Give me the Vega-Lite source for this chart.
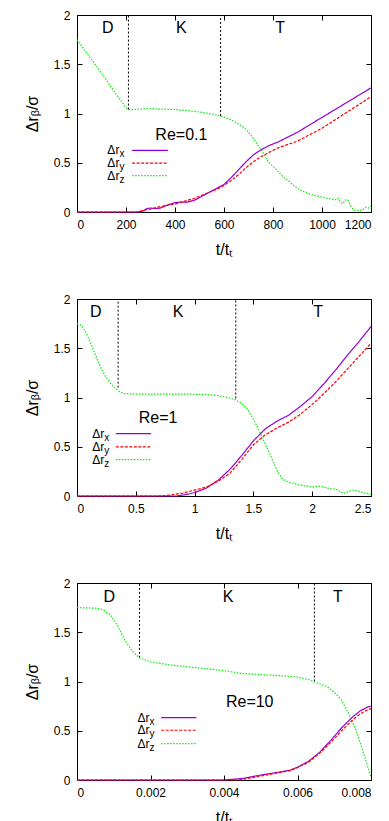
{
  "$schema": "https://vega.github.io/schema/vega-lite/v6.json",
  "padding": {"left": 23, "top": 8, "right": 0, "bottom": 0},
  "spacing": 34,
  "config": {
    "view": {"stroke": "#000", "strokeWidth": 1},
    "font": "Liberation Sans",
    "axis": {"grid": false, "domain": false, "tickColor": "#000", "tickSize": -5, "labelPadding": 12, "labelColor": "#000", "labelFontSize": 12, "titleFontSize": 16, "titleColor": "#000", "titleFontWeight": "normal", "labelFont": "Liberation Sans", "titleFont": "Liberation Sans"},
    "axisX": {"titlePadding": 11},
    "axisY": {"titlePadding": 13}
  },
  "datasets": {
    "curves": [
      {"p": 1, "s": "z", "t": 0, "v": 1.75}, {"p": 1, "s": "z", "t": 50, "v": 1.58}, {"p": 1, "s": "z", "t": 100, "v": 1.41}, {"p": 1, "s": "z", "t": 150, "v": 1.23}, {"p": 1, "s": "z", "t": 200, "v": 1.06}, {"p": 1, "s": "z", "t": 210, "v": 1.04}, {"p": 1, "s": "z", "t": 230, "v": 1.04}, {"p": 1, "s": "z", "t": 260, "v": 1.045}, {"p": 1, "s": "z", "t": 300, "v": 1.05}, {"p": 1, "s": "z", "t": 330, "v": 1.045}, {"p": 1, "s": "z", "t": 360, "v": 1.045}, {"p": 1, "s": "z", "t": 400, "v": 1.04}, {"p": 1, "s": "z", "t": 450, "v": 1.03}, {"p": 1, "s": "z", "t": 500, "v": 1.015}, {"p": 1, "s": "z", "t": 550, "v": 0.995}, {"p": 1, "s": "z", "t": 585, "v": 0.975}, {"p": 1, "s": "z", "t": 620, "v": 0.945}, {"p": 1, "s": "z", "t": 650, "v": 0.91}, {"p": 1, "s": "z", "t": 685, "v": 0.85}, {"p": 1, "s": "z", "t": 710, "v": 0.78}, {"p": 1, "s": "z", "t": 730, "v": 0.71}, {"p": 1, "s": "z", "t": 755, "v": 0.62}, {"p": 1, "s": "z", "t": 780, "v": 0.51}, {"p": 1, "s": "z", "t": 810, "v": 0.44}, {"p": 1, "s": "z", "t": 840, "v": 0.36}, {"p": 1, "s": "z", "t": 870, "v": 0.3}, {"p": 1, "s": "z", "t": 905, "v": 0.23}, {"p": 1, "s": "z", "t": 940, "v": 0.19}, {"p": 1, "s": "z", "t": 975, "v": 0.165}, {"p": 1, "s": "z", "t": 1010, "v": 0.145}, {"p": 1, "s": "z", "t": 1040, "v": 0.13}, {"p": 1, "s": "z", "t": 1055, "v": 0.125}, {"p": 1, "s": "z", "t": 1065, "v": 0.14}, {"p": 1, "s": "z", "t": 1075, "v": 0.1}, {"p": 1, "s": "z", "t": 1085, "v": 0.085}, {"p": 1, "s": "z", "t": 1095, "v": 0.12}, {"p": 1, "s": "z", "t": 1105, "v": 0.125}, {"p": 1, "s": "z", "t": 1115, "v": 0.07}, {"p": 1, "s": "z", "t": 1130, "v": 0.02}, {"p": 1, "s": "z", "t": 1150, "v": 0.015}, {"p": 1, "s": "z", "t": 1165, "v": 0.02}, {"p": 1, "s": "z", "t": 1180, "v": 0.05}, {"p": 1, "s": "z", "t": 1190, "v": 0.04}, {"p": 1, "s": "z", "t": 1200, "v": 0.06},
      {"p": 1, "s": "x", "t": 0, "v": 0}, {"p": 1, "s": "x", "t": 250, "v": 0}, {"p": 1, "s": "x", "t": 270, "v": 0.01}, {"p": 1, "s": "x", "t": 285, "v": 0.035}, {"p": 1, "s": "x", "t": 300, "v": 0.04}, {"p": 1, "s": "x", "t": 320, "v": 0.035}, {"p": 1, "s": "x", "t": 340, "v": 0.04}, {"p": 1, "s": "x", "t": 360, "v": 0.06}, {"p": 1, "s": "x", "t": 380, "v": 0.08}, {"p": 1, "s": "x", "t": 400, "v": 0.095}, {"p": 1, "s": "x", "t": 420, "v": 0.1}, {"p": 1, "s": "x", "t": 450, "v": 0.1}, {"p": 1, "s": "x", "t": 480, "v": 0.12}, {"p": 1, "s": "x", "t": 510, "v": 0.16}, {"p": 1, "s": "x", "t": 540, "v": 0.2}, {"p": 1, "s": "x", "t": 570, "v": 0.24}, {"p": 1, "s": "x", "t": 600, "v": 0.28}, {"p": 1, "s": "x", "t": 630, "v": 0.35}, {"p": 1, "s": "x", "t": 660, "v": 0.43}, {"p": 1, "s": "x", "t": 690, "v": 0.51}, {"p": 1, "s": "x", "t": 720, "v": 0.58}, {"p": 1, "s": "x", "t": 750, "v": 0.63}, {"p": 1, "s": "x", "t": 780, "v": 0.67}, {"p": 1, "s": "x", "t": 820, "v": 0.71}, {"p": 1, "s": "x", "t": 900, "v": 0.81}, {"p": 1, "s": "x", "t": 1000, "v": 0.96}, {"p": 1, "s": "x", "t": 1100, "v": 1.11}, {"p": 1, "s": "x", "t": 1200, "v": 1.26},
      {"p": 1, "s": "y", "t": 0, "v": 0}, {"p": 1, "s": "y", "t": 240, "v": 0}, {"p": 1, "s": "y", "t": 260, "v": 0.01}, {"p": 1, "s": "y", "t": 280, "v": 0.02}, {"p": 1, "s": "y", "t": 300, "v": 0.03}, {"p": 1, "s": "y", "t": 330, "v": 0.05}, {"p": 1, "s": "y", "t": 360, "v": 0.065}, {"p": 1, "s": "y", "t": 400, "v": 0.08}, {"p": 1, "s": "y", "t": 440, "v": 0.11}, {"p": 1, "s": "y", "t": 480, "v": 0.14}, {"p": 1, "s": "y", "t": 510, "v": 0.17}, {"p": 1, "s": "y", "t": 540, "v": 0.2}, {"p": 1, "s": "y", "t": 570, "v": 0.23}, {"p": 1, "s": "y", "t": 600, "v": 0.27}, {"p": 1, "s": "y", "t": 630, "v": 0.32}, {"p": 1, "s": "y", "t": 660, "v": 0.38}, {"p": 1, "s": "y", "t": 690, "v": 0.45}, {"p": 1, "s": "y", "t": 720, "v": 0.51}, {"p": 1, "s": "y", "t": 750, "v": 0.56}, {"p": 1, "s": "y", "t": 780, "v": 0.6}, {"p": 1, "s": "y", "t": 820, "v": 0.65}, {"p": 1, "s": "y", "t": 900, "v": 0.72}, {"p": 1, "s": "y", "t": 1000, "v": 0.85}, {"p": 1, "s": "y", "t": 1100, "v": 1.01}, {"p": 1, "s": "y", "t": 1200, "v": 1.17},
      {"p": 2, "s": "z", "t": 0, "v": 1.75}, {"p": 2, "s": "z", "t": 0.04, "v": 1.73}, {"p": 2, "s": "z", "t": 0.08, "v": 1.65}, {"p": 2, "s": "z", "t": 0.12, "v": 1.54}, {"p": 2, "s": "z", "t": 0.16, "v": 1.42}, {"p": 2, "s": "z", "t": 0.2, "v": 1.31}, {"p": 2, "s": "z", "t": 0.24, "v": 1.22}, {"p": 2, "s": "z", "t": 0.28, "v": 1.15}, {"p": 2, "s": "z", "t": 0.32, "v": 1.1}, {"p": 2, "s": "z", "t": 0.36, "v": 1.06}, {"p": 2, "s": "z", "t": 0.4, "v": 1.04}, {"p": 2, "s": "z", "t": 0.5, "v": 1.035}, {"p": 2, "s": "z", "t": 0.7, "v": 1.035}, {"p": 2, "s": "z", "t": 0.9, "v": 1.035}, {"p": 2, "s": "z", "t": 1.1, "v": 1.03}, {"p": 2, "s": "z", "t": 1.2, "v": 1.02}, {"p": 2, "s": "z", "t": 1.3, "v": 0.995}, {"p": 2, "s": "z", "t": 1.35, "v": 0.975}, {"p": 2, "s": "z", "t": 1.4, "v": 0.94}, {"p": 2, "s": "z", "t": 1.45, "v": 0.88}, {"p": 2, "s": "z", "t": 1.5, "v": 0.78}, {"p": 2, "s": "z", "t": 1.55, "v": 0.66}, {"p": 2, "s": "z", "t": 1.6, "v": 0.53}, {"p": 2, "s": "z", "t": 1.65, "v": 0.4}, {"p": 2, "s": "z", "t": 1.7, "v": 0.26}, {"p": 2, "s": "z", "t": 1.75, "v": 0.17}, {"p": 2, "s": "z", "t": 1.8, "v": 0.14}, {"p": 2, "s": "z", "t": 1.9, "v": 0.11}, {"p": 2, "s": "z", "t": 2.0, "v": 0.09}, {"p": 2, "s": "z", "t": 2.05, "v": 0.1}, {"p": 2, "s": "z", "t": 2.1, "v": 0.09}, {"p": 2, "s": "z", "t": 2.15, "v": 0.075}, {"p": 2, "s": "z", "t": 2.2, "v": 0.07}, {"p": 2, "s": "z", "t": 2.27, "v": 0.025}, {"p": 2, "s": "z", "t": 2.32, "v": 0.05}, {"p": 2, "s": "z", "t": 2.36, "v": 0.06}, {"p": 2, "s": "z", "t": 2.4, "v": 0.045}, {"p": 2, "s": "z", "t": 2.45, "v": 0.03}, {"p": 2, "s": "z", "t": 2.5, "v": 0.015},
      {"p": 2, "s": "x", "t": 0, "v": 0}, {"p": 2, "s": "x", "t": 0.85, "v": 0}, {"p": 2, "s": "x", "t": 0.9, "v": 0.01}, {"p": 2, "s": "x", "t": 0.95, "v": 0.02}, {"p": 2, "s": "x", "t": 1.0, "v": 0.035}, {"p": 2, "s": "x", "t": 1.1, "v": 0.08}, {"p": 2, "s": "x", "t": 1.2, "v": 0.16}, {"p": 2, "s": "x", "t": 1.3, "v": 0.27}, {"p": 2, "s": "x", "t": 1.4, "v": 0.41}, {"p": 2, "s": "x", "t": 1.5, "v": 0.56}, {"p": 2, "s": "x", "t": 1.6, "v": 0.68}, {"p": 2, "s": "x", "t": 1.7, "v": 0.76}, {"p": 2, "s": "x", "t": 1.8, "v": 0.82}, {"p": 2, "s": "x", "t": 1.9, "v": 0.91}, {"p": 2, "s": "x", "t": 2.0, "v": 1.01}, {"p": 2, "s": "x", "t": 2.1, "v": 1.14}, {"p": 2, "s": "x", "t": 2.2, "v": 1.28}, {"p": 2, "s": "x", "t": 2.3, "v": 1.43}, {"p": 2, "s": "x", "t": 2.4, "v": 1.57}, {"p": 2, "s": "x", "t": 2.5, "v": 1.72},
      {"p": 2, "s": "y", "t": 0, "v": 0}, {"p": 2, "s": "y", "t": 0.7, "v": 0}, {"p": 2, "s": "y", "t": 0.8, "v": 0.01}, {"p": 2, "s": "y", "t": 0.9, "v": 0.03}, {"p": 2, "s": "y", "t": 1.0, "v": 0.06}, {"p": 2, "s": "y", "t": 1.1, "v": 0.09}, {"p": 2, "s": "y", "t": 1.2, "v": 0.15}, {"p": 2, "s": "y", "t": 1.3, "v": 0.23}, {"p": 2, "s": "y", "t": 1.4, "v": 0.37}, {"p": 2, "s": "y", "t": 1.5, "v": 0.52}, {"p": 2, "s": "y", "t": 1.6, "v": 0.62}, {"p": 2, "s": "y", "t": 1.7, "v": 0.69}, {"p": 2, "s": "y", "t": 1.8, "v": 0.75}, {"p": 2, "s": "y", "t": 1.9, "v": 0.83}, {"p": 2, "s": "y", "t": 2.0, "v": 0.93}, {"p": 2, "s": "y", "t": 2.1, "v": 1.04}, {"p": 2, "s": "y", "t": 2.2, "v": 1.16}, {"p": 2, "s": "y", "t": 2.3, "v": 1.29}, {"p": 2, "s": "y", "t": 2.4, "v": 1.42}, {"p": 2, "s": "y", "t": 2.5, "v": 1.55},
      {"p": 3, "s": "z", "t": 0, "v": 1.75}, {"p": 3, "s": "z", "t": 0.0005, "v": 1.745}, {"p": 3, "s": "z", "t": 0.0007, "v": 1.73}, {"p": 3, "s": "z", "t": 0.0009, "v": 1.68}, {"p": 3, "s": "z", "t": 0.0011, "v": 1.57}, {"p": 3, "s": "z", "t": 0.0013, "v": 1.42}, {"p": 3, "s": "z", "t": 0.0015, "v": 1.31}, {"p": 3, "s": "z", "t": 0.0017, "v": 1.24}, {"p": 3, "s": "z", "t": 0.002, "v": 1.2}, {"p": 3, "s": "z", "t": 0.0025, "v": 1.17}, {"p": 3, "s": "z", "t": 0.003, "v": 1.15}, {"p": 3, "s": "z", "t": 0.0035, "v": 1.13}, {"p": 3, "s": "z", "t": 0.004, "v": 1.11}, {"p": 3, "s": "z", "t": 0.0045, "v": 1.08}, {"p": 3, "s": "z", "t": 0.005, "v": 1.07}, {"p": 3, "s": "z", "t": 0.0055, "v": 1.06}, {"p": 3, "s": "z", "t": 0.006, "v": 1.045}, {"p": 3, "s": "z", "t": 0.0063, "v": 1.02}, {"p": 3, "s": "z", "t": 0.0065, "v": 0.99}, {"p": 3, "s": "z", "t": 0.0068, "v": 0.95}, {"p": 3, "s": "z", "t": 0.007, "v": 0.89}, {"p": 3, "s": "z", "t": 0.0072, "v": 0.81}, {"p": 3, "s": "z", "t": 0.0074, "v": 0.67}, {"p": 3, "s": "z", "t": 0.0076, "v": 0.5}, {"p": 3, "s": "z", "t": 0.0078, "v": 0.27}, {"p": 3, "s": "z", "t": 0.008, "v": 0.03},
      {"p": 3, "s": "x", "t": 0, "v": 0}, {"p": 3, "s": "x", "t": 0.004, "v": 0}, {"p": 3, "s": "x", "t": 0.0045, "v": 0.015}, {"p": 3, "s": "x", "t": 0.005, "v": 0.05}, {"p": 3, "s": "x", "t": 0.0055, "v": 0.08}, {"p": 3, "s": "x", "t": 0.0058, "v": 0.1}, {"p": 3, "s": "x", "t": 0.006, "v": 0.13}, {"p": 3, "s": "x", "t": 0.0063, "v": 0.19}, {"p": 3, "s": "x", "t": 0.0066, "v": 0.28}, {"p": 3, "s": "x", "t": 0.0069, "v": 0.4}, {"p": 3, "s": "x", "t": 0.0072, "v": 0.53}, {"p": 3, "s": "x", "t": 0.0075, "v": 0.64}, {"p": 3, "s": "x", "t": 0.0077, "v": 0.7}, {"p": 3, "s": "x", "t": 0.0079, "v": 0.74}, {"p": 3, "s": "x", "t": 0.008, "v": 0.75},
      {"p": 3, "s": "y", "t": 0, "v": 0}, {"p": 3, "s": "y", "t": 0.0044, "v": 0}, {"p": 3, "s": "y", "t": 0.0045, "v": 0.005}, {"p": 3, "s": "y", "t": 0.005, "v": 0.04}, {"p": 3, "s": "y", "t": 0.0055, "v": 0.075}, {"p": 3, "s": "y", "t": 0.0058, "v": 0.095}, {"p": 3, "s": "y", "t": 0.006, "v": 0.125}, {"p": 3, "s": "y", "t": 0.0063, "v": 0.18}, {"p": 3, "s": "y", "t": 0.0066, "v": 0.27}, {"p": 3, "s": "y", "t": 0.0069, "v": 0.38}, {"p": 3, "s": "y", "t": 0.0072, "v": 0.5}, {"p": 3, "s": "y", "t": 0.0075, "v": 0.61}, {"p": 3, "s": "y", "t": 0.0077, "v": 0.67}, {"p": 3, "s": "y", "t": 0.0079, "v": 0.71}, {"p": 3, "s": "y", "t": 0.008, "v": 0.725}
    ],
    "vl": [
      {"p": 1, "t": 210, "v": 1.04}, {"p": 1, "t": 586, "v": 0.975},
      {"p": 2, "t": 0.35, "v": 1.1}, {"p": 2, "t": 1.35, "v": 0.99},
      {"p": 3, "t": 0.0017, "v": 1.24}, {"p": 3, "t": 0.00646, "v": 1.0}
    ],
    "ann": [
      {"p": 1, "t": 126, "v": 1.87, "txt": "D"}, {"p": 1, "t": 426, "v": 1.87, "txt": "K"}, {"p": 1, "t": 829, "v": 1.87, "txt": "T"}, {"p": 1, "t": 426, "v": 0.785, "txt": "Re=0.1"},
      {"p": 2, "t": 0.16, "v": 1.87, "txt": "D"}, {"p": 2, "t": 0.86, "v": 1.87, "txt": "K"}, {"p": 2, "t": 2.05, "v": 1.87, "txt": "T"}, {"p": 2, "t": 0.69, "v": 0.79, "txt": "Re=1"},
      {"p": 3, "t": 0.00088, "v": 1.86, "txt": "D"}, {"p": 3, "t": 0.00411, "v": 1.86, "txt": "K"}, {"p": 3, "t": 0.0071, "v": 1.86, "txt": "T"}, {"p": 3, "t": 0.0047, "v": 0.79, "txt": "Re=10"}
    ],
    "leg": [
      {"p": 1, "s": "x", "tl": 173, "t1": 225, "t2": 371, "v": 0.626},
      {"p": 1, "s": "y", "tl": 173, "t1": 225, "t2": 371, "v": 0.497},
      {"p": 1, "s": "z", "tl": 173, "t1": 225, "t2": 371, "v": 0.369},
      {"p": 2, "s": "x", "tl": 0.232, "t1": 0.33, "t2": 0.63, "v": 0.634},
      {"p": 2, "s": "y", "tl": 0.232, "t1": 0.33, "t2": 0.63, "v": 0.498},
      {"p": 2, "s": "z", "tl": 0.232, "t1": 0.33, "t2": 0.63, "v": 0.37},
      {"p": 3, "s": "x", "tl": 0.001975, "t1": 0.00229, "t2": 0.00325, "v": 0.634},
      {"p": 3, "s": "y", "tl": 0.001975, "t1": 0.00229, "t2": 0.00325, "v": 0.505},
      {"p": 3, "s": "z", "tl": 0.001975, "t1": 0.00229, "t2": 0.00325, "v": 0.37}
    ]
  },
  "vconcat": [
    {
      "width": 294, "height": 197,
      "layer": [
        {"data": {"name": "vl"}, "transform": [{"filter": "datum.p == 1"}], "mark": {"type": "rule", "color": "#000", "strokeDash": [2, 2], "strokeWidth": 1},
         "encoding": {"x": {"field": "t", "type": "quantitative", "scale": {"domain": [0, 1200], "nice": false}, "axis": {"orient": "top", "labels": false, "title": null, "values": [0, 200, 400, 600, 800, 1000, 1200]}},
                      "y": {"field": "v", "type": "quantitative", "scale": {"domain": [0, 2], "nice": false}, "axis": {"orient": "right", "labels": false, "title": null, "values": [0, 0.5, 1, 1.5, 2]}},
                      "y2": {"datum": 2}}},
        {"data": {"name": "curves"}, "transform": [{"filter": "datum.p == 1"}], "mark": {"type": "line", "strokeWidth": 1.2},
         "encoding": {"x": {"field": "t", "type": "quantitative", "axis": {"orient": "bottom", "values": [0, 200, 400, 600, 800, 1000, 1200], "format": "d", "title": "t/tₜ"}},
                      "y": {"field": "v", "type": "quantitative", "axis": {"orient": "left", "values": [0, 0.5, 1, 1.5, 2], "format": "~g", "title": "Δrᵦ/σ"}},
                      "color": {"field": "s", "type": "nominal", "scale": {"domain": ["x", "y", "z"], "range": ["#9400d3", "#ff0000", "#00ee00"]}, "legend": null},
                      "strokeDash": {"field": "s", "type": "nominal", "scale": {"domain": ["x", "y", "z"], "range": [[1, 0], [3, 1.5], [1.5, 1.5]]}, "legend": null},
                      "order": {"field": "t", "type": "quantitative"}}},
        {"data": {"name": "ann"}, "transform": [{"filter": "datum.p == 1"}], "mark": {"type": "text", "fontSize": 16, "baseline": "middle", "align": "center", "color": "#000"},
         "encoding": {"x": {"field": "t", "type": "quantitative", "axis": null}, "y": {"field": "v", "type": "quantitative", "axis": null}, "text": {"field": "txt"}}},
        {"data": {"name": "leg"}, "transform": [{"filter": "datum.p == 1"}], "mark": {"type": "rule", "strokeWidth": 1.2},
         "encoding": {"x": {"field": "t1", "type": "quantitative", "axis": null}, "x2": {"field": "t2"}, "y": {"field": "v", "type": "quantitative", "axis": null},
                      "color": {"field": "s", "type": "nominal", "legend": null}, "strokeDash": {"field": "s", "type": "nominal", "legend": null}}},
        {"data": {"name": "leg"}, "transform": [{"filter": "datum.p == 1"}], "mark": {"type": "text", "fontSize": 12, "baseline": "middle", "align": "right", "color": "#000", "text": "Δr"},
         "encoding": {"x": {"field": "tl", "type": "quantitative", "axis": null}, "y": {"field": "v", "type": "quantitative", "axis": null}}},
        {"data": {"name": "leg"}, "transform": [{"filter": "datum.p == 1"}], "mark": {"type": "text", "fontSize": 10, "baseline": "middle", "align": "left", "color": "#000", "dy": 4},
         "encoding": {"x": {"field": "tl", "type": "quantitative", "axis": null}, "y": {"field": "v", "type": "quantitative", "axis": null}, "text": {"field": "s"}}}
      ]
    },
    {
      "width": 294, "height": 197,
      "layer": [
        {"data": {"name": "vl"}, "transform": [{"filter": "datum.p == 2"}], "mark": {"type": "rule", "color": "#000", "strokeDash": [2, 2], "strokeWidth": 1},
         "encoding": {"x": {"field": "t", "type": "quantitative", "scale": {"domain": [0, 2.5], "nice": false}, "axis": {"orient": "top", "labels": false, "title": null, "values": [0, 0.5, 1, 1.5, 2, 2.5]}},
                      "y": {"field": "v", "type": "quantitative", "scale": {"domain": [0, 2], "nice": false}, "axis": {"orient": "right", "labels": false, "title": null, "values": [0, 0.5, 1, 1.5, 2]}},
                      "y2": {"datum": 2}}},
        {"data": {"name": "curves"}, "transform": [{"filter": "datum.p == 2"}], "mark": {"type": "line", "strokeWidth": 1.2},
         "encoding": {"x": {"field": "t", "type": "quantitative", "axis": {"orient": "bottom", "values": [0, 0.5, 1, 1.5, 2, 2.5], "format": "~g", "title": "t/tₜ"}},
                      "y": {"field": "v", "type": "quantitative", "axis": {"orient": "left", "values": [0, 0.5, 1, 1.5, 2], "format": "~g", "title": "Δrᵦ/σ"}},
                      "color": {"field": "s", "type": "nominal", "scale": {"domain": ["x", "y", "z"], "range": ["#9400d3", "#ff0000", "#00ee00"]}, "legend": null},
                      "strokeDash": {"field": "s", "type": "nominal", "scale": {"domain": ["x", "y", "z"], "range": [[1, 0], [3, 1.5], [1.5, 1.5]]}, "legend": null},
                      "order": {"field": "t", "type": "quantitative"}}},
        {"data": {"name": "ann"}, "transform": [{"filter": "datum.p == 2"}], "mark": {"type": "text", "fontSize": 16, "baseline": "middle", "align": "center", "color": "#000"},
         "encoding": {"x": {"field": "t", "type": "quantitative", "axis": null}, "y": {"field": "v", "type": "quantitative", "axis": null}, "text": {"field": "txt"}}},
        {"data": {"name": "leg"}, "transform": [{"filter": "datum.p == 2"}], "mark": {"type": "rule", "strokeWidth": 1.2},
         "encoding": {"x": {"field": "t1", "type": "quantitative", "axis": null}, "x2": {"field": "t2"}, "y": {"field": "v", "type": "quantitative", "axis": null},
                      "color": {"field": "s", "type": "nominal", "legend": null}, "strokeDash": {"field": "s", "type": "nominal", "legend": null}}},
        {"data": {"name": "leg"}, "transform": [{"filter": "datum.p == 2"}], "mark": {"type": "text", "fontSize": 12, "baseline": "middle", "align": "right", "color": "#000", "text": "Δr"},
         "encoding": {"x": {"field": "tl", "type": "quantitative", "axis": null}, "y": {"field": "v", "type": "quantitative", "axis": null}}},
        {"data": {"name": "leg"}, "transform": [{"filter": "datum.p == 2"}], "mark": {"type": "text", "fontSize": 10, "baseline": "middle", "align": "left", "color": "#000", "dy": 4},
         "encoding": {"x": {"field": "tl", "type": "quantitative", "axis": null}, "y": {"field": "v", "type": "quantitative", "axis": null}, "text": {"field": "s"}}}
      ]
    },
    {
      "width": 294, "height": 197,
      "layer": [
        {"data": {"name": "vl"}, "transform": [{"filter": "datum.p == 3"}], "mark": {"type": "rule", "color": "#000", "strokeDash": [2, 2], "strokeWidth": 1},
         "encoding": {"x": {"field": "t", "type": "quantitative", "scale": {"domain": [0, 0.008], "nice": false}, "axis": {"orient": "top", "labels": false, "title": null, "values": [0, 0.002, 0.004, 0.006, 0.008]}},
                      "y": {"field": "v", "type": "quantitative", "scale": {"domain": [0, 2], "nice": false}, "axis": {"orient": "right", "labels": false, "title": null, "values": [0, 0.5, 1, 1.5, 2]}},
                      "y2": {"datum": 2}}},
        {"data": {"name": "curves"}, "transform": [{"filter": "datum.p == 3"}], "mark": {"type": "line", "strokeWidth": 1.2},
         "encoding": {"x": {"field": "t", "type": "quantitative", "axis": {"orient": "bottom", "values": [0, 0.002, 0.004, 0.006, 0.008], "format": "~g", "title": "t/tₜ"}},
                      "y": {"field": "v", "type": "quantitative", "axis": {"orient": "left", "values": [0, 0.5, 1, 1.5, 2], "format": "~g", "title": "Δrᵦ/σ"}},
                      "color": {"field": "s", "type": "nominal", "scale": {"domain": ["x", "y", "z"], "range": ["#9400d3", "#ff0000", "#00ee00"]}, "legend": null},
                      "strokeDash": {"field": "s", "type": "nominal", "scale": {"domain": ["x", "y", "z"], "range": [[1, 0], [3, 1.5], [1.5, 1.5]]}, "legend": null},
                      "order": {"field": "t", "type": "quantitative"}}},
        {"data": {"name": "ann"}, "transform": [{"filter": "datum.p == 3"}], "mark": {"type": "text", "fontSize": 16, "baseline": "middle", "align": "center", "color": "#000"},
         "encoding": {"x": {"field": "t", "type": "quantitative", "axis": null}, "y": {"field": "v", "type": "quantitative", "axis": null}, "text": {"field": "txt"}}},
        {"data": {"name": "leg"}, "transform": [{"filter": "datum.p == 3"}], "mark": {"type": "rule", "strokeWidth": 1.2},
         "encoding": {"x": {"field": "t1", "type": "quantitative", "axis": null}, "x2": {"field": "t2"}, "y": {"field": "v", "type": "quantitative", "axis": null},
                      "color": {"field": "s", "type": "nominal", "legend": null}, "strokeDash": {"field": "s", "type": "nominal", "legend": null}}},
        {"data": {"name": "leg"}, "transform": [{"filter": "datum.p == 3"}], "mark": {"type": "text", "fontSize": 12, "baseline": "middle", "align": "right", "color": "#000", "text": "Δr"},
         "encoding": {"x": {"field": "tl", "type": "quantitative", "axis": null}, "y": {"field": "v", "type": "quantitative", "axis": null}}},
        {"data": {"name": "leg"}, "transform": [{"filter": "datum.p == 3"}], "mark": {"type": "text", "fontSize": 10, "baseline": "middle", "align": "left", "color": "#000", "dy": 4},
         "encoding": {"x": {"field": "tl", "type": "quantitative", "axis": null}, "y": {"field": "v", "type": "quantitative", "axis": null}, "text": {"field": "s"}}}
      ]
    }
  ]
}
